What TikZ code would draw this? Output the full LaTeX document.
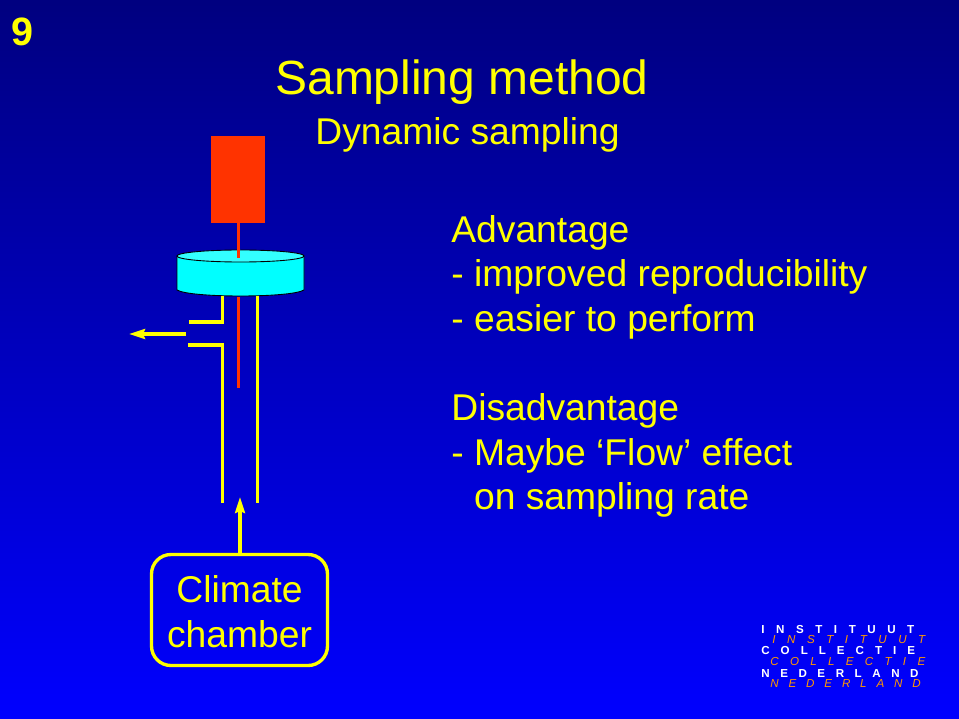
\documentclass[tikz,border=0pt]{standalone}
\usepackage{fontspec}
\usepackage{xcolor}
\setmainfont{Liberation Sans}
\newfontfamily\logofont{Liberation Sans}
\usetikzlibrary{arrows.meta, positioning}
\definecolor{slideyellow}{RGB}{255,255,0}
\definecolor{rodred}{RGB}{255,51,0}
\definecolor{logoorange}{RGB}{255,153,0}
\definecolor{discside}{RGB}{0,255,255}
\definecolor{disctop}{RGB}{51,255,255}
\tikzset{
  slidetext/.style={text=slideyellow, inner sep=0pt, anchor=base west},
  tube/.style={slideyellow, line width=1.9pt},
  rod/.style={rodred, line width=1.9pt},
  flow/.style={slideyellow, line width=2.8pt, -{Stealth[length=9pt, width=5.5pt, inset=1pt]}},
  logowhite/.style={text=white, inner sep=0pt, anchor=base west, font=\logofont\bfseries\fontsize{6.6}{7}\selectfont},
  logoitalic/.style={text=logoorange, inner sep=0pt, anchor=base west, font=\logofont\itshape\fontsize{6.6}{7}\selectfont},
}
\begin{document}
\begin{tikzpicture}[x=0.02cm, y=-0.02cm]
  % Background
  \shade[top color=black!0!blue!50!black, bottom color=blue] (0,0) rectangle (959,719);
  \useasboundingbox (0,0) rectangle (959,719);

  % Slide number and headings
  \node[slidetext, font=\bfseries\fontsize{22.5}{26}\selectfont] (slidenum) at (11,46) {9};
  \node[slidetext, font=\fontsize{27.3}{32}\selectfont] (title) at (275,95) {Sampling method};
  \node[slidetext, font=\fontsize{21.2}{25}\selectfont] (subtitle) at (315,145) {Dynamic sampling};

  % Advantages
  \node[slidetext, anchor=north west, align=left, font=\fontsize{21.2}{25.35}\selectfont] (points) at (451,215) {
    Advantage\\
    - improved reproducibility\\
    - easier to perform\\
    \strut\\
    Disadvantage\\
    - Maybe `Flow' effect\\
    \phantom{- }on sampling rate
  };

  % Sampler
  \node[fill=rodred, inner sep=0pt, minimum width=54*0.569pt, minimum height=87*0.569pt] (sampler) at (238,179.5) {};

  % Disc
  \filldraw[fill=discside, draw=black, line width=0.5pt] (177,256) -- (177,290)
    .. controls (190,298) and (291,298) .. (304,290) -- (304,256) -- cycle;
  \filldraw[fill=disctop, draw=black, line width=0.5pt] (240.5,256) ellipse [x radius=63.5, y radius=6];

  % Rod
  \coordinate (rodtop) at (238.5,258);
  \coordinate (rodin) at (238.5,297);
  \coordinate (rodend) at (238.5,388);
  \draw[rod] (sampler.south -| rodtop) -- (rodtop);
  \draw[rod] (rodin) -- (rodend);

  % Tube
  \draw[tube] (189,322) -- (222.5,322) -- (222.5,296);
  \draw[tube] (188,345) -- (222.5,345) -- (222.5,503);
  \draw[tube] (257.5,296) -- (257.5,503);

  % Flow arrows
  \coordinate (outstart) at (186,334);
  \coordinate (outend) at (129,334);
  \draw[flow] (outstart) -- (outend);

  \node[draw=slideyellow, line width=1.9pt, rounded corners=11pt, minimum width=176*0.569pt, minimum height=111*0.569pt] (chamber) at (239.5,610) {};
  \node[text=slideyellow, align=center, inner sep=0pt, font=\fontsize{21.2}{25.35}\selectfont] (chamberlabel) at (239.5,611.5) {Climate\\chamber};
  \coordinate (inend) at (240,497);
  \draw[flow] (chamber.north -| inend) -- (inend);

  % Logo
  \foreach \row/\xpos/\ypos/\kind/\spacing in {INSTITUUT/761/633/logowhite/99.6, INSTITUUT/772/643/logoitalic/99.6,
      COLLECTIE/761/654/logowhite/95, COLLECTIE/770/665/logoitalic/97.5,
      NEDERLAND/761/677/logowhite/91, NEDERLAND/770/687/logoitalic/85} {
    \node[\kind] (logo\ypos) at (\xpos,\ypos) {\addfontfeature{LetterSpace=\spacing}\row};
  }
\end{tikzpicture}
\end{document}
